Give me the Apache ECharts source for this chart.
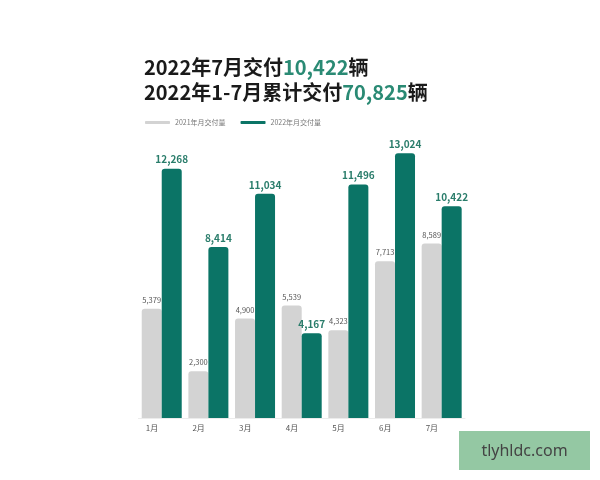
<!DOCTYPE html>
<html><head><meta charset="utf-8">
<script src="https://cdn.jsdelivr.net/npm/echarts@6/dist/echarts.min.js"></script>
<style>html,body{margin:0;padding:0;background:#fff}#c{width:600px;height:480px}</style>
</head><body><div id="c"></div>
<script>
var months = ['1月','2月','3月','4月','5月','6月','7月'];
var series2021Name = '2021年月交付量';
var series2022Name = '2022年月交付量';
var values2021 = [5379, 2300, 4900, 5539, 4323, 7713, 8589];
var values2022 = [12268, 8414, 11034, 4167, 11496, 13024, 10422];
var titleLine1 = ['2022年7月交付', '10,422', '辆'];
var titleLine2 = ['2022年1-7月累计交付', '70,825', '辆'];
var watermark = 'tlyhldc.com';

var FONT = '"Noto Sans CJK SC", "Noto Sans", sans-serif';
var TEAL = '#0b7466';
var GRAY = '#d3d3d3';

var chart = echarts.init(document.getElementById('c'), null, {renderer: 'canvas'});
chart.setOption({
  backgroundColor: '#fff',
  animation: false,
  textStyle: {fontFamily: FONT},
  title: {
    left: 139, top: 50,
    text: '{a|' + titleLine1[0] + '}{b|' + titleLine1[1] + '}{a|' + titleLine1[2] + '}\n{a|' + titleLine2[0] + '}{b|' + titleLine2[1] + '}{a|' + titleLine2[2] + '}',
    textStyle: {
      rich: {
        a: {fontSize: 20, fontWeight: 'bold', color: '#1a1a1a', fontFamily: FONT, lineHeight: 25},
        b: {fontSize: 20, fontWeight: 'bold', color: '#2a8a74', fontFamily: FONT, lineHeight: 25}
      }
    }
  },
  legend: {
    left: 140, top: 114,
    itemWidth: 25, itemHeight: 3, itemGap: 15,
    icon: 'roundRect',
    textStyle: {fontSize: 7, color: '#777', fontFamily: FONT},
    data: [series2021Name, series2022Name]
  },
  grid: {left: 138.4, right: 135, top: 133.5, bottom: 62},
  xAxis: {
    type: 'category',
    data: months,
    axisTick: {show: false},
    axisLine: {show: true, lineStyle: {color: '#ececec', width: 1}},
    axisLabel: {
      interval: 0,
      margin: 6,
      formatter: function (v) { return '{m|' + v + '}'; },
      rich: {m: {width: 32, align: 'left', fontSize: 8, color: '#555', fontFamily: FONT}}
    }
  },
  yAxis: {
    type: 'value', min: 0, max: 14000, show: false,
    splitLine: {show: false}
  },
  series: [
    {
      name: series2021Name, type: 'bar', data: values2021,
      barWidth: 20, barGap: '0%',
      itemStyle: {color: GRAY, borderRadius: [3, 3, 0, 0]},
      label: {show: true, position: 'top', distance: 5, fontSize: 7.5, color: '#555',
        formatter: function (p) { return p.value.toLocaleString('en-US'); }}
    },
    {
      name: series2022Name, type: 'bar', data: values2022,
      barWidth: 20, barGap: '0%',
      itemStyle: {color: TEAL, borderRadius: [3, 3, 0, 0]},
      label: {show: true, position: 'top', distance: 4, fontSize: 10, fontWeight: 'bold', color: '#2a7d6b',
        formatter: function (p) { return p.value.toLocaleString('en-US'); }}
    }
  ],
  graphic: [
    {type: 'rect', left: 459, top: 431, shape: {width: 131, height: 39}, style: {fill: '#94c8a3'}, z: 10},
    {type: 'text', z: 11,
      style: {text: watermark, x: 524.5, y: 451, textAlign: 'center', textVerticalAlign: 'middle', fontSize: 16, fill: '#444', fontFamily: '"Noto Sans", sans-serif'}}
  ]
});
</script></body></html>
